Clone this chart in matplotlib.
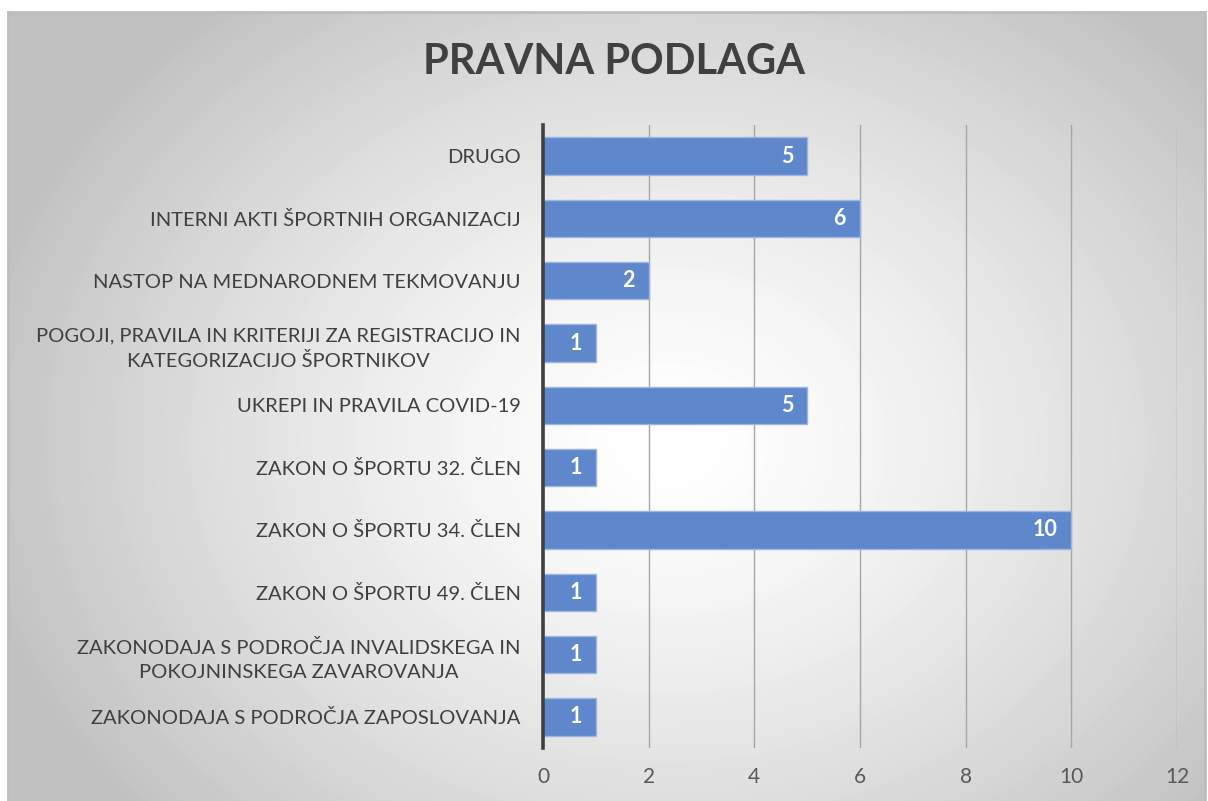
import numpy as np
import matplotlib.pyplot as plt

# data, top to bottom as shown
categories = [
    "DRUGO",
    "INTERNI AKTI ŠPORTNIH ORGANIZACIJ",
    "NASTOP NA MEDNARODNEM TEKMOVANJU",
    "POGOJI, PRAVILA IN KRITERIJI ZA REGISTRACIJO IN\nKATEGORIZACIJO ŠPORTNIKOV",
    "UKREPI IN PRAVILA COVID-19",
    "ZAKON O ŠPORTU 32. ČLEN",
    "ZAKON O ŠPORTU 34. ČLEN",
    "ZAKON O ŠPORTU 49. ČLEN",
    "ZAKONODAJA S PODROČJA INVALIDSKEGA IN\nPOKOJNINSKEGA ZAVAROVANJA",
    "ZAKONODAJA S PODROČJA ZAPOSLOVANJA",
]
values = [5, 6, 2, 1, 5, 1, 10, 1, 1, 1]
xticks = [0, 2, 4, 6, 8, 10, 12]

plt.rcParams['font.family'] = ['Lato', 'DejaVu Sans']

W, H = 1208, 801
fig = plt.figure(figsize=(W / 100, H / 100), dpi=100)
fig.patch.set_facecolor("white")

# chart area background: radial gradient, white centre to grey edges
bg = fig.add_axes([8 / W, 0, 1197 / W, 789 / H])
yy, xx = np.mgrid[0:789, 0:1197]
r = np.sqrt(((xx - 660) / 700.0) ** 2 + ((yy - 430) / 560.0) ** 2)
shade = np.clip(1.0 - 0.24 * r ** 1.4, 0.76, 1.0)
bg.imshow(shade, cmap="gray", vmin=0, vmax=1, aspect="auto",
          extent=[0, 1, 0, 1], interpolation="bilinear")
bg.set_xticks([])
bg.set_yticks([])
for s in bg.spines.values():
    s.set_color("#bdbdbd")
    s.set_linewidth(2)
bg.spines["bottom"].set_visible(False)

# plot axes
ax = fig.add_axes([543 / W, 1 - 748 / H, (1177 - 543) / W, (748 - 125) / H])
ax.patch.set_alpha(0)
y = np.arange(len(categories))
bars = ax.barh(y, values, height=0.6, color="#5f87cc",
               edgecolor="#9db5e0", linewidth=1, zorder=3)
ax.set_ylim(len(categories) - 0.5, -0.5)
ax.set_xlim(0, 12)
ax.set_xticks(xticks)
ax.set_yticks(y)
ax.set_yticklabels(categories, fontsize=14.5, color="#404040",
                   multialignment="center", linespacing=1.55)
ax.tick_params(axis="y", length=0, pad=16)
ax.tick_params(axis="x", length=0, pad=14, labelsize=15, labelcolor="#595959")
ax.grid(axis="x", color="#a6a6a6", linewidth=1, zorder=0)

for s in ["top", "right", "bottom"]:
    ax.spines[s].set_visible(False)
ax.spines["left"].set_color("#404040")
ax.spines["left"].set_linewidth(2.6)
ax.spines["left"].set_zorder(4)

for b, v in zip(bars, values):
    ax.annotate(str(v), (b.get_width(), b.get_y() + b.get_height() / 2),
                xytext=(-10, 0), textcoords="offset points",
                ha="right", va="center", color="white",
                fontsize=15.5, fontweight="bold", zorder=5)

fig.text(614 / W, 1 - 62 / H, "PRAVNA PODLAGA", ha="center", va="center",
         fontsize=30, fontweight="bold", color="#404040")

fig.savefig("out.png", dpi=100)
